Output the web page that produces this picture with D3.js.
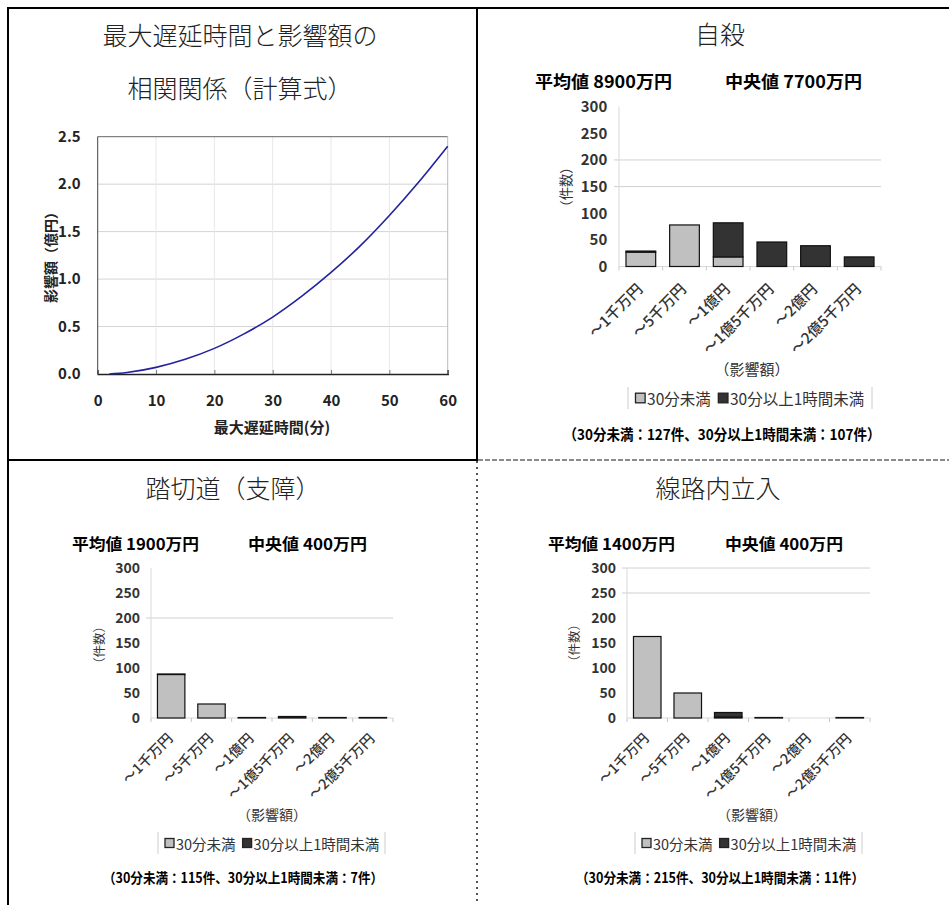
<!DOCTYPE html>
<html>
<head>
<meta charset="utf-8">
<script src="https://cdn.jsdelivr.net/npm/d3@7"></script>
<style>
  html, body { margin: 0; padding: 0; background: #fff; }
  svg { display: block; }
  text { font-family: "Noto Sans CJK JP", "Noto Sans", sans-serif; }
</style>
</head>
<body>
<script>
// ---------------- data ----------------
const lineMinutes = [2, 5, 10, 15, 20, 25, 30, 35, 40, 45, 50, 55, 60];
const lineImpact  = [0.0, 0.015, 0.07, 0.155, 0.27, 0.42, 0.60, 0.82, 1.07, 1.35, 1.67, 2.02, 2.40];
const lineXTicks = [0, 10, 20, 30, 40, 50, 60];
const lineYTicks = [0.0, 0.5, 1.0, 1.5, 2.0, 2.5];

const amountBins = ["～1千万円", "～5千万円", "～1億円", "～1億5千万円", "～2億円", "～2億5千万円"];
const countTicks = [0, 50, 100, 150, 200, 250, 300];
const seriesNames = ["30分未満", "30分以上1時間未満"];

const suicideUnder30  = [27, 78, 18, 0, 0, 0];
const suicideOver30   = [2, 0, 64, 46, 39, 18];
const crossingUnder30 = [87, 28, 0, 0, 0, 0];
const crossingOver30  = [1, 0, 1, 3, 1, 1];
const trespassUnder30 = [163, 50, 2, 0, 0, 0];
const trespassOver30  = [0, 0, 9, 1, 0, 1];

const suicideGrid  = [150, 200];
const crossingGrid = [200];
const trespassGrid = [250, 300];

const lineTitle = ["最大遅延時間と影響額の", "相関関係（計算式）"];
const suicideTitle = "自殺";
const crossingTitle = "踏切道（支障）";
const trespassTitle = "線路内立入";
const suicideStats  = ["平均値 8900万円", "中央値 7700万円"];
const crossingStats = ["平均値 1900万円", "中央値 400万円"];
const trespassStats = ["平均値 1400万円", "中央値 400万円"];
const suicideNote  = "（30分未満：127件、30分以上1時間未満：107件）";
const crossingNote = "（30分未満：115件、30分以上1時間未満：7件）";
const trespassNote = "（30分未満：215件、30分以上1時間未満：11件）";

// ---------------- drawing ----------------
const W = 949, H = 905;
const svg = d3.select("body").append("svg").attr("width", W).attr("height", H);
svg.append("rect").attr("width", W).attr("height", H).attr("fill", "#fff");

// cell borders
const borders = svg.append("g");
borders.append("rect").attr("x", 8).attr("y", 8).attr("width", 469).attr("height", 452)
  .attr("fill", "none").attr("stroke", "#000").attr("stroke-width", 2);
borders.append("line").attr("x1", 477).attr("y1", 8).attr("x2", W).attr("y2", 8)
  .attr("stroke", "#000").attr("stroke-width", 2);
borders.append("line").attr("x1", 8).attr("y1", 460).attr("x2", 8).attr("y2", H)
  .attr("stroke", "#000").attr("stroke-width", 2);
borders.append("line").attr("x1", 478).attr("y1", 460).attr("x2", W).attr("y2", 460)
  .attr("stroke", "#666").attr("stroke-width", 1.5).attr("stroke-dasharray", "5,2");
borders.append("line").attr("x1", 477).attr("y1", 461).attr("x2", 477).attr("y2", H)
  .attr("stroke", "#555").attr("stroke-width", 2).attr("stroke-dasharray", "2,4");

// ---------- line chart ----------
(function () {
  const g = svg.append("g");
  const x = d3.scaleLinear().domain([0, 60]).range([97.7, 447.7]);
  const y = d3.scaleLinear().domain([0, 2.5]).range([374, 136.7]);

  g.selectAll("text.t").data(lineTitle).join("text")
    .attr("x", 240).attr("y", (d, i) => 34 + i * 53)
    .attr("text-anchor", "middle").attr("dominant-baseline", "central")
    .attr("font-size", 25).attr("font-weight", 300).attr("fill", "#222").text(d => d);

  // grid
  g.selectAll("line.hg").data(lineYTicks.slice(1, -1)).join("line")
    .attr("x1", x(0)).attr("x2", x(60)).attr("y1", d => y(d)).attr("y2", d => y(d))
    .attr("stroke", "#d4d4d4").attr("stroke-width", 1);
  g.selectAll("line.vg").data(lineXTicks.slice(1, -1)).join("line")
    .attr("x1", d => x(d)).attr("x2", d => x(d)).attr("y1", y(0)).attr("y2", y(2.5))
    .attr("stroke", "#e8e8e8").attr("stroke-width", 1);
  // frame
  g.append("line").attr("x1", x(0)).attr("x2", x(60)).attr("y1", y(2.5)).attr("y2", y(2.5)).attr("stroke", "#666");
  g.append("line").attr("x1", x(60)).attr("x2", x(60)).attr("y1", y(2.5)).attr("y2", y(0)).attr("stroke", "#bbb");
  g.append("line").attr("x1", x(0)).attr("x2", x(0)).attr("y1", y(2.5)).attr("y2", y(0)).attr("stroke", "#444");

  // axes
  const xa = g.append("g").attr("transform", `translate(0,${y(0)})`)
    .call(d3.axisBottom(x).tickValues(lineXTicks).tickSize(-4).tickPadding(21).tickFormat(d3.format("d")));
  xa.select(".domain").attr("stroke", "#222").attr("stroke-width", 1.5);
  xa.selectAll(".tick line").attr("stroke", "#777");
  xa.selectAll("text").attr("font-family", "'Liberation Sans Narrow', 'DejaVu Sans Condensed', sans-serif")
    .attr("font-size", 15).attr("font-weight", 700).attr("fill", "#222");

  const ya = g.append("g").attr("transform", `translate(${x(0)},0)`)
    .call(d3.axisLeft(y).tickValues(lineYTicks).tickSize(0).tickPadding(17).tickFormat(d3.format(".1f")));
  ya.select(".domain").remove();
  ya.selectAll("text").attr("font-family", "'Liberation Sans Narrow', 'DejaVu Sans Condensed', sans-serif")
    .attr("font-size", 15).attr("font-weight", 700).attr("fill", "#222");

  g.append("path").datum(lineMinutes.map((m, i) => [m, lineImpact[i]]))
    .attr("d", d3.line().x(d => x(d[0])).y(d => y(d[1])).curve(d3.curveCatmullRom))
    .attr("fill", "none").attr("stroke", "#22229c").attr("stroke-width", 1.6);

  g.append("text").attr("transform", `translate(50,254) rotate(-90)`)
    .attr("text-anchor", "middle").attr("dominant-baseline", "central")
    .attr("font-size", 14).attr("font-weight", 700).attr("fill", "#222").text("影響額（億円）");
  g.append("text").attr("x", 272).attr("y", 426)
    .attr("text-anchor", "middle").attr("dominant-baseline", "central")
    .attr("font-size", 15).attr("font-weight", 700).attr("fill", "#222").text("最大遅延時間(分)");
})();

// ---------- bar charts ----------
function barChart(o, under, over, grid, title, stats, note) {
  const g = svg.append("g");
  const s = o.s;
  const rows = amountBins.map((b, i) => ({ bin: b, under: under[i], over: over[i] }));
  const x = d3.scaleBand().domain(amountBins).range([o.x0, o.x1]).paddingInner(0.32).paddingOuter(0.16);
  const y = d3.scaleLinear().domain([0, 300]).range([o.y0, o.yTop]);

  g.append("text").attr("x", o.titleX).attr("y", o.titleY)
    .attr("text-anchor", "middle").attr("dominant-baseline", "central")
    .attr("font-size", 25).attr("font-weight", 300).attr("fill", "#222").text(title);

  g.selectAll("text.st").data(stats).join("text")
    .attr("x", (d, i) => o.statX[i]).attr("y", o.statY)
    .attr("dominant-baseline", "central")
    .attr("font-size", 16 * s).attr("font-weight", 700).attr("fill", "#000")
    .attr("textLength", (d, i) => o.statW[i]).attr("lengthAdjust", "spacingAndGlyphs")
    .text(d => d);

  // gridlines
  g.selectAll("line.gr").data(grid).join("line")
    .attr("x1", o.x0 - 5).attr("x2", o.x1).attr("y1", d => y(d)).attr("y2", d => y(d))
    .attr("stroke", "#d0d0d0").attr("stroke-width", 1);
  // y axis line
  g.append("line").attr("x1", o.x0).attr("x2", o.x0).attr("y1", o.yTop).attr("y2", o.y0)
    .attr("stroke", "#d9d9d9");
  // baseline with ticks between categories
  g.append("line").attr("x1", o.x0).attr("x2", o.x1).attr("y1", o.y0).attr("y2", o.y0)
    .attr("stroke", "#d9d9d9");
  const step = x.step();
  g.selectAll("line.bt").data(d3.range(amountBins.length + 1)).join("line")
    .attr("x1", i => o.x0 + i * step).attr("x2", i => o.x0 + i * step)
    .attr("y1", o.y0).attr("y2", o.y0 + 4).attr("stroke", "#c8c8c8");

  const ya = g.append("g").attr("transform", `translate(${o.x0},0)`)
    .call(d3.axisLeft(y).tickValues(countTicks).tickSize(0).tickPadding(11 * s));
  ya.select(".domain").remove();
  ya.selectAll("text").attr("font-family", "'Liberation Sans', Arial, sans-serif")
    .attr("font-size", 14 * s).attr("font-weight", 700).attr("fill", "#333");

  // stacked bars
  const stacked = d3.stack().keys(["under", "over"])(rows);
  const colors = { under: "#c0c0c0", over: "#333333" };
  stacked.forEach(layer => {
    g.selectAll(null).data(layer.filter(d => d[1] > d[0])).join("rect")
      .attr("x", d => x(d.data.bin)).attr("width", x.bandwidth())
      .attr("y", d => y(d[1])).attr("height", d => y(d[0]) - y(d[1]))
      .attr("fill", colors[layer.key]).attr("stroke", "#111").attr("stroke-width", 1.2);
  });

  // x tick labels (rotated)
  g.selectAll("text.xl").data(amountBins).join("text")
    .attr("transform", d => `translate(${x(d) + x.bandwidth() / 2 - 1},${o.y0 + o.lblDy}) rotate(-45)`)
    .attr("text-anchor", "end").attr("dy", "0.35em")
    .attr("font-size", 14 * s).attr("font-weight", 500).attr("fill", "#333").text(d => d);

  // y title
  g.append("text").attr("transform", `translate(${o.yTitleX},${o.yTitleY}) rotate(-90)`)
    .attr("text-anchor", "middle").attr("dominant-baseline", "central")
    .attr("font-size", 12.5 * s).attr("fill", "#333").text("（件数）");
  // x title
  g.append("text").attr("x", o.xTitleX).attr("y", o.xTitleY)
    .attr("text-anchor", "middle").attr("dominant-baseline", "central")
    .attr("font-size", 14 * s).attr("fill", "#333").text("（影響額）");

  // legend
  const lg = g.append("g");
  lg.append("line").attr("x1", o.legX0).attr("x2", o.legX0).attr("y1", o.legY - 11).attr("y2", o.legY + 11).attr("stroke", "#ccc");
  lg.append("line").attr("x1", o.legX1).attr("x2", o.legX1).attr("y1", o.legY - 11).attr("y2", o.legY + 11).attr("stroke", "#ccc");
  let cx = o.legX0 + 7 * s;
  seriesNames.forEach((name, i) => {
    const sw = 9 * s;
    lg.append("rect").attr("x", cx).attr("y", o.legY - sw / 2).attr("width", sw).attr("height", sw)
      .attr("fill", i === 0 ? colors.under : colors.over).attr("stroke", "#222").attr("stroke-width", 1.3);
    cx += sw + 2;
    const t = lg.append("text").attr("x", cx).attr("y", o.legY).attr("dominant-baseline", "central")
      .attr("font-size", 14.5 * s).attr("fill", "#333").text(name);
    cx += t.node().getComputedTextLength() + 7 * s;
  });

  g.append("text").attr("x", o.noteX).attr("y", o.noteY)
    .attr("text-anchor", "middle").attr("dominant-baseline", "central")
    .attr("font-size", 14 * s).attr("font-weight", 700).attr("fill", "#000")
    .attr("textLength", o.noteW).attr("lengthAdjust", "spacingAndGlyphs").text(note);
}

barChart({
  s: 1.07, x0: 619, x1: 881, y0: 266.5, yTop: 106.7, lblDy: 20,
  titleX: 720, titleY: 33, statX: [535, 725], statW: [137, 137], statY: 80,
  yTitleX: 565, yTitleY: 187, xTitleX: 752, xTitleY: 368,
  legX0: 628, legX1: 872, legY: 398, noteX: 722, noteY: 433, noteW: 317
}, suicideUnder30, suicideOver30, suicideGrid, suicideTitle, suicideStats, suicideNote);

barChart({
  s: 1, x0: 151, x1: 393, y0: 718, yTop: 568, lblDy: 18,
  titleX: 233, titleY: 487, statX: [72, 248], statW: [127, 119], statY: 543,
  yTitleX: 98, yTitleY: 645, xTitleX: 272, xTitleY: 814,
  legX0: 158, legX1: 385, legY: 843, noteX: 243, noteY: 877, noteW: 280
}, crossingUnder30, crossingOver30, crossingGrid, crossingTitle, crossingStats, crossingNote);

barChart({
  s: 1, x0: 627, x1: 870, y0: 718, yTop: 568, lblDy: 18,
  titleX: 718, titleY: 487, statX: [548, 725], statW: [127, 118], statY: 543,
  yTitleX: 573, yTitleY: 643, xTitleX: 752, xTitleY: 814,
  legX0: 635, legX1: 862, legY: 843, noteX: 720, noteY: 877, noteW: 288
}, trespassUnder30, trespassOver30, trespassGrid, trespassTitle, trespassStats, trespassNote);
</script>
</body>
</html>
